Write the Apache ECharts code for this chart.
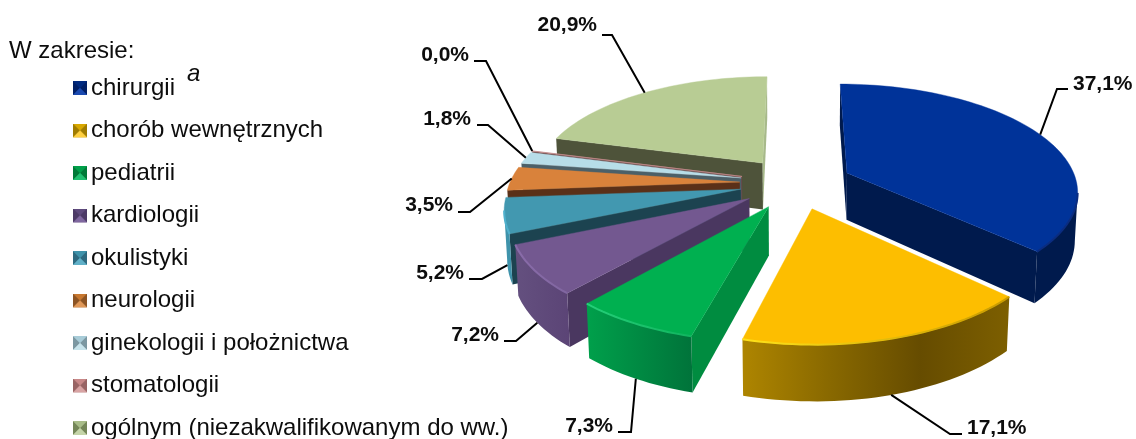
<!DOCTYPE html>
<html><head><meta charset="utf-8">
<style>html,body{margin:0;padding:0;background:#fff}#c{width:1136px;height:439px}</style>
<script src="https://cdn.jsdelivr.net/npm/echarts@6/dist/echarts.min.js"></script>
</head><body><div id="c"></div>
<script>
// ---- data ----
const categories = ['chirurgii','chorób wewnętrznych','pediatrii','kardiologii','okulistyki','neurologii','ginekologii i położnictwa','stomatologii','ogólnym (niezakwalifikowanym do ww.)'];
const shares = [37.1, 17.1, 7.3, 7.2, 5.2, 3.5, 1.8, 0.04, 20.9];
// ---- styles ----
const topColors   = ['#003399','#FDBE00','#00B050','#735890','#4298B0','#D9823B','#B7DDE8','#C08A8A','#B8CC94'];
const startColors = ['#001A4D','#5A4400','#008C40','#4A3760','#1C4350','#5A3018','#4C6068','#6B4544','#4E533A'];
const endColors   = ['#001A4D','#5A4400','#008C40','#4A3760','#1C4350','#5A3018','#4C6068','#6B4544','#A7B98A'];
const arcStops    = [['#001A4D','#001A4D'],['#AE8500','#886800','#664C00','#7D5F00'],['#00A04B','#00733A'],['#64507F','#5B4476'],['#3F93AB','#3F93AB'],['#B06A2E','#B06A2E'],['#94B4BE','#94B4BE'],['#B07876','#B07876'],['#94A578','#94A578']];
const rimColors   = [['#0A2C80','#0A2C80'],['#FFE21A','#C89A00'],['#26D07A','#10B45E'],['#8A6CAA','#8066A0'],['#4FB0CC','#4FB0CC'],['#D9823B','#D9823B'],['#B7DDE8','#B7DDE8'],['#D99694','#D99694'],['#B8CC94','#B8CC94']];
const swatchSides = [['#002A80','#1A4AB0','#001F66'],['#D8A800','#FFD040','#A07C00'],['#00A04A','#20C070','#007A38'],['#5E4A7C','#8068A0','#4C3A66'],['#3F93AB','#60B0C8','#2E6A80'],['#C87830','#E09858','#8C5424'],['#A8CCD8','#C8E4EC','#7C98A2'],['#C88888','#D8A4A4','#986464'],['#A8BC88','#C4D4A8','#748658']];
// leader: elbow x, elbow y, end x ; label text anchored after the leader end
const leaderLayout = [[1057,89,1068],[950,434,962],[631,432,618],[516,341,504],[482,279,469],[470,212,458],[488,125,477],[486,61,474],[612,35,602]];
const labelLayout  = [[1073,84,'left'],[967,428,'left'],[613,426,'right'],[499,335,'right'],[464,273,'right'],[453,205,'right'],[471,119,'right'],[469,55,'right'],[597,25,'right']];
// ---- projection ----
const X0=796, Y0=183, A=230, B=105.6, D=48, K=0.156, KZ=0.01, EXPLODE=0.245;
function project(u,w,z){const s=1/(1-K*w+KZ*z);return [X0+A*u*s, Y0+(B*w+D*z)*s];}
const total = shares.reduce((a,b)=>a+b,0);
let acc=0;
const slices = shares.map(v=>{const a0=acc/total*2*Math.PI;acc+=v;const a1=acc/total*2*Math.PI;const mid=(a0+a1)/2;
  return {a0,a1,mid,eu:EXPLODE*Math.sin(mid),ew:-EXPLODE*Math.cos(mid)};});
const rank = slices.map((s,i)=>i).sort((a,b)=>slices[a].ew-slices[b].ew);
function rim(sl,t,z){return project(sl.eu+Math.sin(t),sl.ew-Math.cos(t),z);}
function grad(cols){const n=cols.length-1;return new echarts.graphic.LinearGradient(0,0,1,0,cols.map((c,i)=>({offset:n?i/n:0,color:c})));}
function cross(o,a,b){return (a[0]-o[0])*(b[1]-o[1])-(a[1]-o[1])*(b[0]-o[0]);}
function renderSlice(i){
  const sl=slices[i], kids=[];
  const n=Math.max(2,Math.ceil((sl.a1-sl.a0)/0.03));
  const topArc=[],botArc=[];
  for(let j=0;j<=n;j++){const t=sl.a0+(sl.a1-sl.a0)*j/n;topArc.push(rim(sl,t,0));botArc.push(rim(sl,t,1));}
  const apexT=project(sl.eu,sl.ew,0), apexB=project(sl.eu,sl.ew,1);
  const poly=(pts,fill,z2)=>({type:'polygon',shape:{points:pts},style:{fill,stroke:null},z2});
  if(cross(apexT,topArc[0],botArc[0])<0) kids.push(poly([apexT,topArc[0],botArc[0],apexB],startColors[i],1));
  if(cross(apexT,topArc[n],botArc[n])>0) kids.push(poly([apexT,topArc[n],botArc[n],apexB],endColors[i],1));
  let first=-1,last=-1;
  for(let j=0;j<n;j++){if(topArc[j+1][0]<topArc[j][0]){if(first<0)first=j;last=j+1;}}
  if(first>=0){
    const t=topArc.slice(first,last+1), b=botArc.slice(first,last+1).reverse();
    kids.push(poly(t.concat(b),grad(arcStops[i]),2));
  }
  kids.push({type:'polygon',shape:{points:topArc.concat([apexT])},style:{fill:topColors[i],stroke:topColors[i],lineWidth:i===7?0.7:0.4},z2:3});
  if(first>=0){
    kids.push({type:'polyline',shape:{points:topArc.slice(first,last+1)},style:{fill:null,stroke:grad(rimColors[i]),lineWidth:2},z2:4});
  }
  const front=-Math.cos(sl.mid)>0;
  const start=rim(sl,sl.mid,front?1:0), L=leaderLayout[i], T=labelLayout[i];
  kids.push({type:'polyline',shape:{points:[start,[L[0],L[1]],[L[2],L[1]]]},style:{fill:null,stroke:'#000',lineWidth:2},z2:5});
  kids.push({type:'text',style:{x:T[0],y:T[1],text:shares[i].toFixed(1).replace('.',',')+'%',fill:'#0d0d0d',font:'bold 21px "Liberation Sans",Arial,sans-serif',align:T[2],verticalAlign:'middle'},z2:6});
  return {type:'group',children:kids};
}
function swatch(c){
  const svg=`<svg xmlns="http://www.w3.org/2000/svg" width="14" height="14"><rect width="14" height="14" fill="${c[2]}"/><polygon points="0,0 14,0 7,7" fill="${c[0]}" stroke="${c[0]}" stroke-width="0.4"/><polygon points="0,14 14,14 7,7" fill="${c[1]}" stroke="${c[1]}" stroke-width="0.4"/></svg>`;
  return 'image://data:image/svg+xml;charset=utf-8,'+encodeURIComponent(svg);
}
const chart=echarts.init(document.getElementById('c'),null,{renderer:'canvas'});
chart.setOption({
  animation:false,
  backgroundColor:'#fff',
  title:{text:'W zakresie:',left:9,top:38,textStyle:{fontFamily:'"Liberation Sans",Arial,sans-serif',fontSize:24,fontWeight:'normal',color:'#0d0d0d',lineHeight:26},padding:0},
  legend:{orient:'vertical',left:73,top:76,height:400,padding:0,itemWidth:14,itemHeight:14,itemGap:18.5,selectedMode:false,
    textStyle:{fontFamily:'"Liberation Sans",Arial,sans-serif',fontSize:24,color:'#0d0d0d',lineHeight:24,padding:[0,0,0,-1]},
    data:categories.map((name,i)=>({name,icon:swatch(swatchSides[i])}))},
  graphic:[{type:'text',left:187,top:62,style:{text:'a',font:'italic 24px "Liberation Sans",Arial,sans-serif',fill:'#0d0d0d'}}],
  series:categories.map((name,i)=>({
    type:'custom',name,coordinateSystem:'none',silent:true,z:2+rank.indexOf(i),
    itemStyle:{color:topColors[i]},
    data:[[shares[i]]],
    renderItem:()=>renderSlice(i)
  }))
});
</script></body></html>
